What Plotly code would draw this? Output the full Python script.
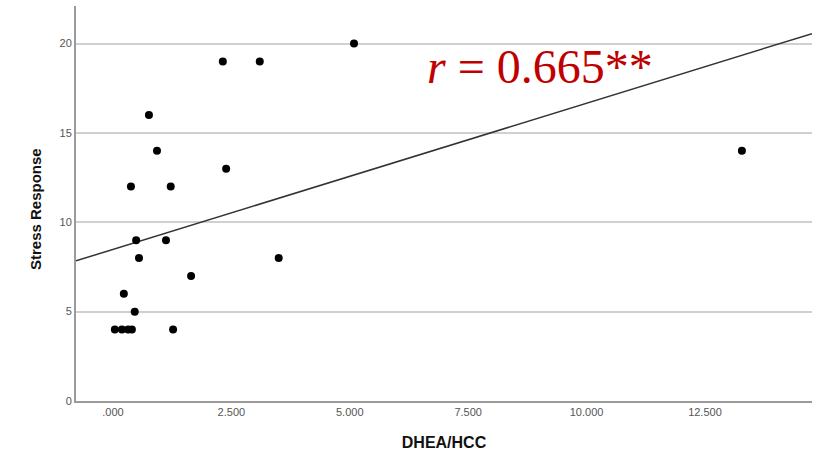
import plotly.graph_objects as go

# Data
dhea_hcc = [5.09, 2.32, 3.10, 0.76, 0.93, 0.38, 1.22, 2.39, 0.49, 1.12, 0.55, 3.50,
            1.65, 0.23, 0.46, 0.04, 0.19, 0.32, 0.40, 1.27, 13.28]
stress = [20, 19, 19, 16, 14, 12, 12, 13, 9, 9, 8, 8,
          7, 6, 5, 4, 4, 4, 4, 4, 14]

fit_intercept = 8.48
fit_slope = 0.818
x_range = [-0.78, 14.76]
y_range = [0, 22.1]

x_ticks = [0, 2.5, 5, 7.5, 10, 12.5]
x_tick_labels = [".000", "2.500", "5.000", "7.500", "10.000", "12.500"]
y_ticks = [0, 5, 10, 15, 20]

annotation_text = "<i>r</i> = 0.665**"
y_title = "Stress Response"
x_title = "DHEA/HCC"

fig = go.Figure()
fig.add_trace(go.Scatter(
    x=x_range, y=[fit_intercept + fit_slope * v for v in x_range],
    mode="lines", line=dict(color="#333333", width=1.5),
    showlegend=False, hoverinfo="skip"))
fig.add_trace(go.Scatter(
    x=dhea_hcc, y=stress, mode="markers",
    marker=dict(color="black", size=8),
    showlegend=False))

fig.add_annotation(
    x=0.63, y=0.848, xref="paper", yref="paper",
    text=annotation_text, showarrow=False,
    xanchor="center", yanchor="middle",
    font=dict(family="Liberation Serif, Times New Roman, serif", size=48, color="#c00000"))

# y-axis title placed as a rotated annotation
fig.add_annotation(
    x=0, y=0.486, xref="paper", yref="paper", xshift=-41,
    text=y_title, textangle=-90, showarrow=False,
    xanchor="center", yanchor="middle",
    font=dict(size=15, color="#111111", weight=600))

fig.update_layout(
    width=821, height=454,
    margin=dict(l=76, r=9, t=6, b=53),
    paper_bgcolor="white", plot_bgcolor="white",
    font=dict(family="Liberation Sans, Arial, sans-serif"),
)
fig.update_xaxes(
    range=x_range, tickvals=x_ticks, ticktext=x_tick_labels,
    showgrid=False, zeroline=False,
    showline=True, linecolor="#9a9a9a", linewidth=2,
    ticks="", tickfont=dict(size=11, color="#555555"),
    title=dict(text=x_title, font=dict(size=16, color="#111111", weight=600), standoff=20),
)
fig.update_yaxes(
    range=y_range, tickvals=y_ticks,
    showgrid=True, gridcolor="#d0d0d0", gridwidth=1.5, zeroline=False,
    showline=True, linecolor="#9a9a9a", linewidth=2,
    ticks="", tickfont=dict(size=11, color="#555555"),
)

fig.write_html("out.html", config={"displayModeBar": False},
               post_script="document.body.style.margin='0';")
